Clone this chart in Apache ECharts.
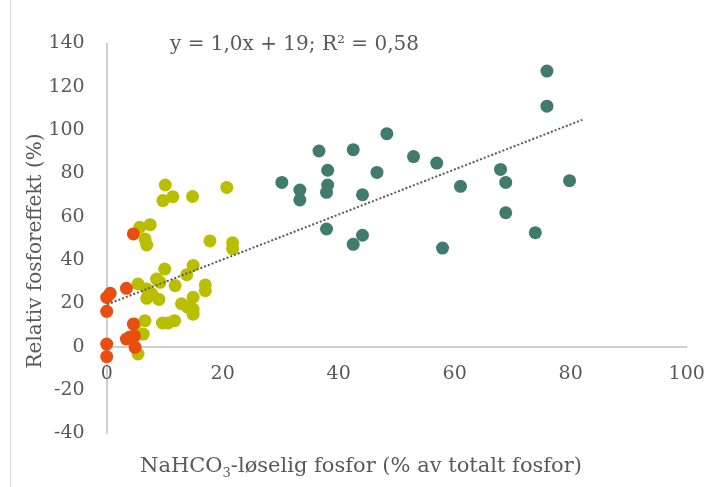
<!DOCTYPE html>
<html>
<head>
<meta charset="utf-8">
<script src="https://cdn.jsdelivr.net/npm/echarts@6/dist/echarts.min.js"></script>
<style>
  html, body { margin: 0; padding: 0; background: #ffffff; }
  #chart { width: 720px; height: 487px; }
</style>
</head>
<body>
<div id="chart"></div>
<script>
// Axis ranges
const xMin = 0, xMax = 100, xStep = 20;
const yMin = -40, yMax = 140, yStep = 20;

// Axis titles and trend annotation
const xTitleMain = 'NaHCO';
const xTitleSub = '3';
const xTitleRest = '-løselig fosfor (% av totalt fosfor)';
const yTitle = 'Relativ fosforeffekt (%)';
const trendLabel = 'y = 1,0x + 19; R² = 0,58';

// Soil groups: [NaHCO3-soluble P (% of total P), relative P effect (%)]
const orangePoints = [
  [0.6, 24.6], [0, 22.7], [0, 16.3], [3.4, 26.9], [4.6, 52.0], [4.6, 10.4],
  [3.4, 3.5], [4.0, 4.5], [4.8, 5.0], [4.9, -0.3], [0, 1.2], [0, -4.6]
];
const yellowPoints = [
  [10.1, 74.6], [20.7, 73.5], [11.4, 69.2], [9.7, 67.4], [14.8, 69.3],
  [7.5, 56.3], [5.7, 55.1], [6.6, 49.7], [6.9, 46.9], [17.8, 48.8],
  [21.7, 47.9], [21.7, 45.2], [10.0, 35.8], [14.9, 37.5], [13.8, 33.2],
  [5.4, 28.9], [8.6, 31.2], [9.2, 29.7], [11.8, 28.2], [17.0, 28.5],
  [17.0, 25.8], [6.9, 26.6], [6.9, 22.3], [7.8, 24.3], [9.0, 21.8],
  [12.9, 19.8], [13.9, 18.3], [14.9, 22.8], [14.9, 17.2], [14.9, 15.0],
  [6.6, 12.0], [9.6, 10.9], [11.7, 12.0], [10.6, 10.9], [6.3, 5.8],
  [5.4, -3.4], [4.9, 10.3]
];
const tealPoints = [
  [30.2, 75.8], [33.3, 72.3], [33.3, 67.7], [36.6, 90.3], [38.1, 81.4],
  [38.1, 74.6], [37.9, 71.2], [37.9, 54.3], [42.5, 90.9], [44.1, 70.1],
  [44.1, 51.4], [42.5, 47.2], [46.6, 80.4], [48.3, 98.3], [52.9, 87.7],
  [56.9, 84.7], [61.0, 74.0], [57.9, 45.5], [67.9, 81.8], [68.8, 75.8],
  [68.8, 61.8], [73.9, 52.6], [75.9, 127.2], [75.9, 111.0], [79.8, 76.6]
];

// Linear trend y = a*x + b, drawn over the fitted span
const trendSlope = 1.04;
const trendIntercept = 19.4;
const trendSpan = [-1.2, 82];

const trendPoints = trendSpan.map(x => [x, trendSlope * x + trendIntercept]);

const FONT = '"DejaVu Serif", Georgia, serif';
const TEXT = '#595959';
const AXIS = '#BFBFBF';

// Plot box in pixels
const GRID = { left: 106.7, right: 33.3, top: 43.3, bottom: 53.7 };
const plotHeight = 487 - GRID.top - GRID.bottom;
// lift the category axis from the plot bottom up to y = 0
const zeroLift = plotHeight * (0 - yMin) / (yMax - yMin);

const chart = echarts.init(document.getElementById('chart'), null, { renderer: 'canvas' });

const dot = (name, data, color) => ({
  name, type: 'scatter', data, symbol: 'circle', symbolSize: 13,
  itemStyle: { color, opacity: 1 },
  emphasis: { disabled: true },
  silent: true
});

chart.setOption({
  animation: false,
  backgroundColor: '#ffffff',
  textStyle: { fontFamily: FONT, color: TEXT },
  grid: Object.assign({ containLabel: false, outerBoundsMode: 'none' }, GRID),
  xAxis: {
    type: 'value', min: xMin, max: xMax, interval: xStep,
    position: 'bottom', offset: -zeroLift,
    axisLine: { show: true, onZero: false, lineStyle: { color: AXIS, width: 1.5 } },
    axisTick: { show: false },
    splitLine: { show: false },
    axisLabel: { color: TEXT, fontFamily: FONT, fontSize: 19, margin: 18 }
  },
  yAxis: {
    type: 'value', min: yMin, max: yMax, interval: yStep,
    axisLine: { show: true, onZero: false, lineStyle: { color: AXIS, width: 1.5 } },
    axisTick: { show: false },
    splitLine: { show: false },
    axisLabel: { color: TEXT, fontFamily: FONT, fontSize: 19, margin: 22 }
  },
  graphic: [
    {
      type: 'line', silent: true,
      shape: { x1: 10.5, y1: 0, x2: 10.5, y2: 487 },
      style: { stroke: '#D9D9D9', lineWidth: 1 }
    },
    {
      type: 'text', left: 170, top: 35, silent: true,
      style: { text: trendLabel, fill: TEXT, font: '20px ' + FONT }
    },
    {
      type: 'text', silent: true,
      x: 361, y: 467,
      style: {
        text: '{m|' + xTitleMain + '}{s|' + xTitleSub + '}{m|' + xTitleRest + '}',
        align: 'center', verticalAlign: 'middle',
        rich: {
          m: { fontFamily: FONT, fontSize: 21, fill: TEXT, color: TEXT },
          s: { fontFamily: FONT, fontSize: 13, fill: TEXT, color: TEXT, padding: [13, 0, 0, 0] }
        }
      }
    },
    {
      type: 'text', silent: true,
      x: 36, y: 251, rotation: Math.PI / 2,
      style: {
        text: yTitle, fill: TEXT, font: '20px ' + FONT,
        align: 'center', verticalAlign: 'middle'
      }
    }
  ],
  series: [
    dot('Gruppe 3', tealPoints, '#417B6F'),
    dot('Gruppe 2', yellowPoints, '#B9BE00'),
    dot('Gruppe 1', orangePoints, '#E84E10'),
    {
      name: 'Trend', type: 'line', data: trendPoints, showSymbol: false,
      clip: false, silent: true,
      lineStyle: { color: '#595959', width: 2, type: [2, 2] },
      emphasis: { disabled: true }
    }
  ]
});
</script>
</body>
</html>
